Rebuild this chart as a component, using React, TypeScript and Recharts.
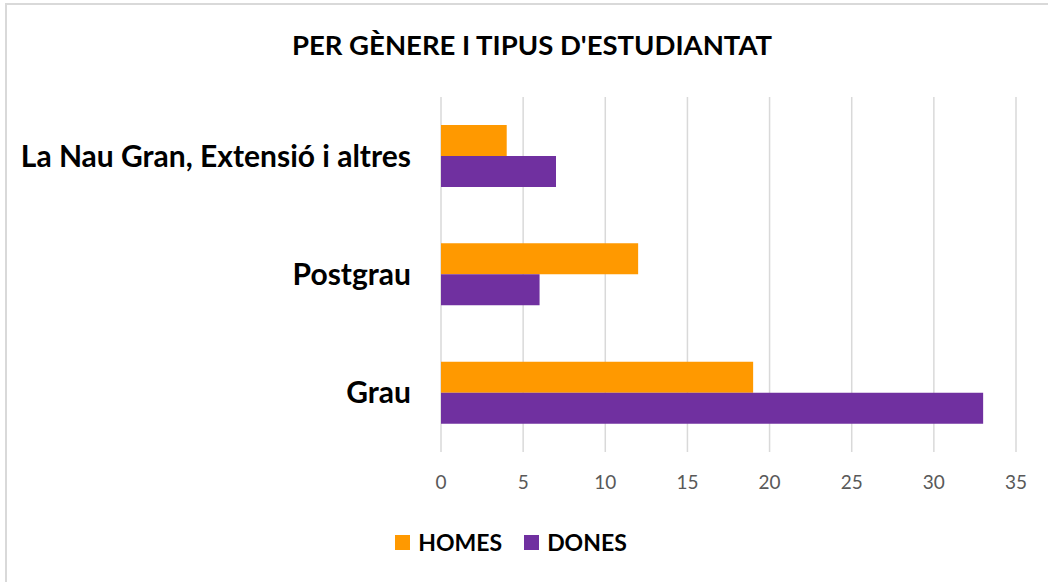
import { BarChart, Bar, XAxis, YAxis, CartesianGrid } from 'recharts';

const CATEGORIES = ['La Nau Gran, Extensió i altres', 'Postgrau', 'Grau'];
const HOMES = [4, 12, 19];
const DONES = [7, 6, 33];
const X_TICKS = [0, 5, 10, 15, 20, 25, 30, 35];
const TITLE = "PER GÈNERE I TIPUS D'ESTUDIANTAT";

const SERIES = [
  { key: 'homes', label: 'HOMES', color: '#FF9900' },
  { key: 'dones', label: 'DONES', color: '#7030A0' },
];

const data = CATEGORIES.map((name, i) => ({ name, homes: HOMES[i], dones: DONES[i] }));

const FONT = 'Lato, "Open Sans", sans-serif';

export default function App() {
  return (
    <div style={{ position: 'absolute', left: 0, top: 0, width: 1048, height: 582, overflow: 'hidden', background: '#fff', fontFamily: FONT }}>
      <div style={{ position: 'absolute', left: 5, top: 3, width: 1100, height: 620, border: '2px solid #d9d9d9', boxSizing: 'border-box' }} />
      <div style={{ position: 'absolute', left: 8, top: 28, width: 1048, textAlign: 'center', fontSize: 27.5, fontWeight: 700, lineHeight: '34px', color: '#000' }}>
        {TITLE}
      </div>
      <div style={{ position: 'absolute', left: 0, top: 0 }}>
        <BarChart
          width={1048}
          height={582}
          data={data}
          layout="vertical"
          margin={{ top: 97, right: 32, bottom: 70, left: 0 }}
          barGap={0}
        >
          <CartesianGrid horizontal={false} stroke="#d9d9d9" strokeWidth={1.5} />
          <XAxis
            type="number"
            domain={[0, 35]}
            ticks={X_TICKS}
            axisLine={false}
            tickLine={false}
            tickMargin={18}
            tick={{ fontSize: 19, fill: '#595959', fontFamily: FONT }}
            height={60}
          />
          <YAxis
            type="category"
            dataKey="name"
            width={441}
            axisLine={false}
            tickLine={false}
            tickMargin={24}
            tick={{ fontSize: 30, fontWeight: 700, fill: '#000', fontFamily: FONT }}
          />
          {SERIES.map((s) => (
            <Bar key={s.key} dataKey={s.key} name={s.label} fill={s.color} barSize={31} isAnimationActive={false} />
          ))}
        </BarChart>
      </div>
      <div style={{ position: 'absolute', left: 0, top: 527, width: 1022, display: 'flex', justifyContent: 'center', alignItems: 'center', gap: 22 }}>
        {SERIES.map((s) => (
          <div key={s.key} style={{ display: 'flex', alignItems: 'center', gap: 8 }}>
            <div style={{ width: 15, height: 15, background: s.color }} />
            <span style={{ fontSize: 23, fontWeight: 700, lineHeight: '30px', color: '#000' }}>{s.label}</span>
          </div>
        ))}
      </div>
    </div>
  );
}
